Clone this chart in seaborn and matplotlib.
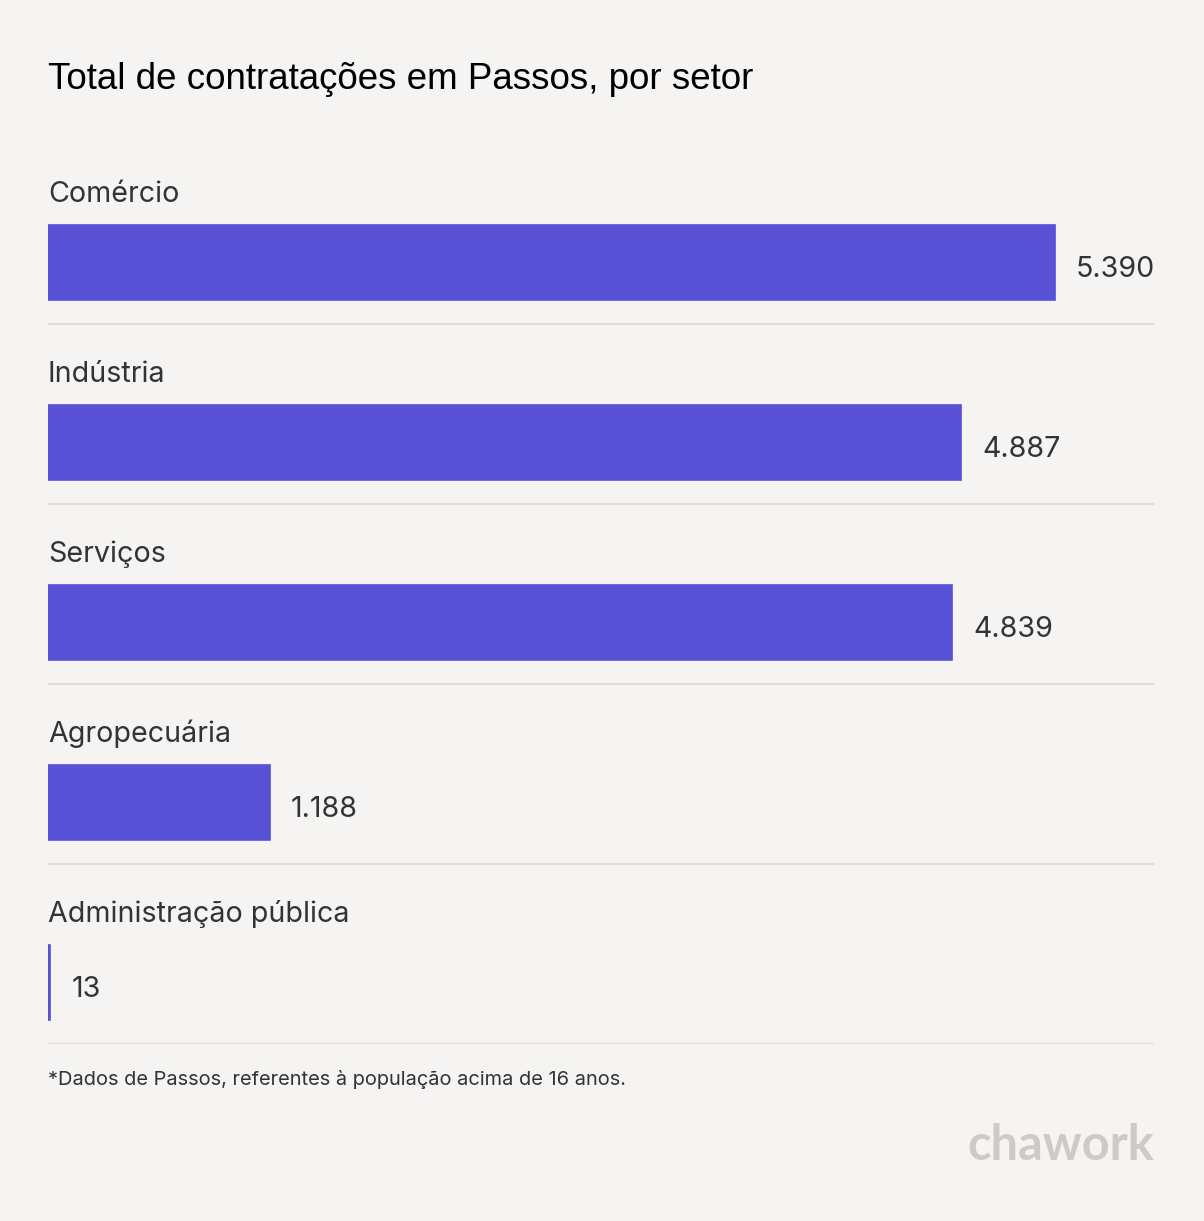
import matplotlib
matplotlib.use("Agg")
import matplotlib.pyplot as plt
import matplotlib.transforms as mtransforms
import seaborn as sns
import pandas as pd

# data
setores = ["Comércio", "Indústria", "Serviços", "Agropecuária", "Administração pública"]
contratacoes = [5390, 4887, 4839, 1188, 13]
rotulos = ["5.390", "4.887", "4.839", "1.188", "13"]

titulo = "Total de contratações em Passos, por setor"
nota = "*Dados de Passos, referentes à população acima de 16 anos."

bg = "#F5F4F2"
roxo = "#5851D6"
texto = "#333333"

df = pd.DataFrame({"setor": setores, "total": contratacoes})

sns.set_theme(style="white")
plt.rcParams["font.family"] = ["Inter", "DejaVu Sans"]

W, H = 1204, 1221
fig = plt.figure(figsize=(W / 100, H / 100), dpi=100, facecolor=bg)

# axes: x 48..1154 px, y 144..1044 px
ax = fig.add_axes([48 / W, 1 - 1044 / H, (1154 - 48) / W, 900 / H])
ax.set_facecolor(bg)

sns.barplot(data=df, x="total", y="setor", orient="h", color=roxo,
            width=75 / 180, saturation=1, edgecolor=roxo, linewidth=1.2, ax=ax)

ax.set_xlim(0, 5390 * 1106 / 1007)
ax.set_ylim(4 + 0.342, -0.658)
ax.set_xlabel("")
ax.set_ylabel("")
ax.set_xticks([])
ax.set_yticks([])
for s in ax.spines.values():
    s.set_visible(False)

for i, (v, lab, nome) in enumerate(zip(contratacoes, rotulos, setores)):
    # category name above bar
    ax.text(0, i - 0.336, nome, fontsize=20.6, color=texto, va="baseline", ha="left")
    # value label right of bar
    off = mtransforms.offset_copy(ax.transData, fig=fig, x=21, y=-7.5, units="dots")
    ax.text(v, i, lab, fontsize=20.6, color=texto, va="center", ha="left", transform=off)
    # separator line
    ax.axhline(i + 0.342, color="#DEDDDA", lw=1.5, zorder=0)

fig.text(48 / W, 1 - 89 / H, titulo, fontsize=26.5, color="black",
         family="Liberation Sans", va="baseline", ha="left")
fig.text(48 / W, 1 - 1085 / H, nota, fontsize=14.4, color=texto,
         va="baseline", ha="left")
fig.text(1154 / W, 1 - 1160 / H, "chawork", fontsize=35, color="#CDCBC6",
         fontweight="bold", family=["Lato", "DejaVu Sans"], va="baseline", ha="right")

fig.savefig("out.png", dpi=100, facecolor=bg)
